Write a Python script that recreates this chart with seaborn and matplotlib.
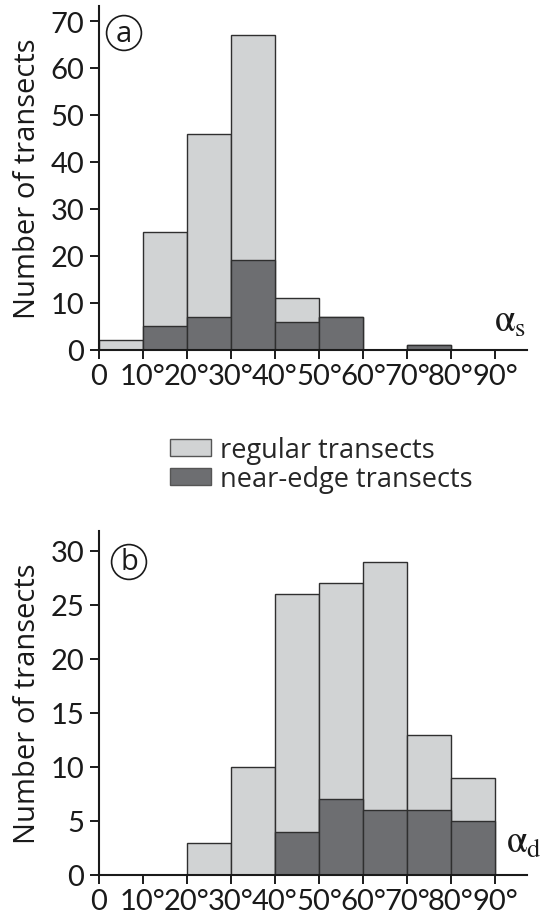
import matplotlib
matplotlib.use("Agg")
import matplotlib.pyplot as plt
import seaborn as sns
import numpy as np
import pandas as pd
from matplotlib.patches import Patch

# ---- data ----
bin_edges = [0, 10, 20, 30, 40, 50, 60, 70, 80, 90]
tick_labels = ["0", "10°", "20°", "30°", "40°", "50°", "60°", "70°", "80°", "90°"]
# panel a (alpha_s)
a_regular = [2, 20, 39, 48, 5, 0, 0, 0, 0]
a_near_edge = [0, 5, 7, 19, 6, 7, 0, 1, 0]
# panel b (alpha_d)
b_regular = [0, 0, 3, 10, 22, 20, 23, 7, 4]
b_near_edge = [0, 0, 0, 0, 4, 7, 6, 6, 5]
legend_labels = ["regular transects", "near-edge transects"]

LIGHT = "#d1d3d4"
DARK = "#6d6e71"
EDGE = "#2f2f2f"

sns.set_style("ticks")
plt.rcParams["font.family"] = ["Lato", "DejaVu Sans"]
plt.rcParams["mathtext.fontset"] = "stix"
LABEL_FONT = ["Open Sans", "DejaVu Sans"]

W, H = 541, 920
fig = plt.figure(figsize=(W / 100, H / 100), dpi=100)


def make_axes(x0, y_top, x1, y_bot):
    return fig.add_axes([x0 / W, 1 - y_bot / H, (x1 - x0) / W, (y_bot - y_top) / H])


def draw_panel(ax, regular, near, ymax, yticks, alpha_txt, alpha_pos):
    centers = [(bin_edges[i] + bin_edges[i + 1]) / 2 for i in range(len(bin_edges) - 1)]
    df = pd.DataFrame({
        "angle": centers,
        "total": [r + n for r, n in zip(regular, near)],
        "near": list(near),
    })
    sns.histplot(data=df, x="angle", weights="total", bins=list(bin_edges), ax=ax,
                 color=LIGHT, edgecolor=EDGE, linewidth=1.0, alpha=1)
    sns.histplot(data=df, x="angle", weights="near", bins=list(bin_edges), ax=ax,
                 color=DARK, edgecolor=EDGE, linewidth=1.0, alpha=1)
    ax.set_xlim(0, 97.3)
    ax.set_ylim(0, ymax)
    ax.set_xticks(bin_edges)
    ax.set_xticklabels(tick_labels)
    ax.set_yticks(list(yticks))
    ax.tick_params(axis="both", direction="out", length=6.5, width=1.4,
                   labelsize=21, color="#1a1a1a", labelcolor="#1a1a1a")
    ax.tick_params(axis="x", pad=3)
    ax.tick_params(axis="y", pad=4)
    for s in ("top", "right"):
        ax.spines[s].set_visible(False)
    for s in ("left", "bottom"):
        ax.spines[s].set_linewidth(1.5)
        ax.spines[s].set_color("#1a1a1a")
    ax.set_ylabel("Number of transects", fontsize=21, family=LABEL_FONT,
                  labelpad=6, color="#1a1a1a")
    ax.set_xlabel("")
    ax.text(alpha_pos[0], alpha_pos[1], alpha_txt, fontsize=27, ha="left",
            va="baseline", clip_on=False, color="#1a1a1a")
    return ax


axa = make_axes(99, 7, 527, 350.7)
draw_panel(axa, a_regular, a_near_edge, 73.2, range(0, 71, 10),
           r"$\mathrm{\alpha}_{\mathrm{s}}$", (89.8, 4.0))
axb = make_axes(99, 532, 527, 876)
draw_panel(axb, b_regular, b_near_edge, 31.85, range(0, 31, 5),
           r"$\mathrm{\alpha}_{\mathrm{d}}$", (92.6, 2.1))

# circled panel letters
for letter, (px, py) in (("a", (124, 34)), ("b", (129, 563))):
    fig.text(px / W, 1 - py / H, letter, fontsize=21, family=LABEL_FONT,
             ha="center", va="center", color="#1a1a1a",
             bbox=dict(boxstyle="circle,pad=0.1", fc="white", ec="#1a1a1a", lw=1.2))

# legend
handles = [Patch(facecolor=LIGHT, edgecolor="#555555", linewidth=1.0),
           Patch(facecolor=DARK, edgecolor="#555555", linewidth=1.0)]
fs = 19.5
fpx = fs * 100 / 72
fig.legend(handles, legend_labels, loc="upper left",
           bbox_to_anchor=(170 / W, 1 - 437 / H), frameon=False,
           prop=dict(family=LABEL_FONT, size=fs),
           handlelength=41 / fpx, handleheight=16 / fpx, handletextpad=9 / fpx,
           labelspacing=0.03, borderpad=0, borderaxespad=0)

fig.savefig("out.png", dpi=100)
